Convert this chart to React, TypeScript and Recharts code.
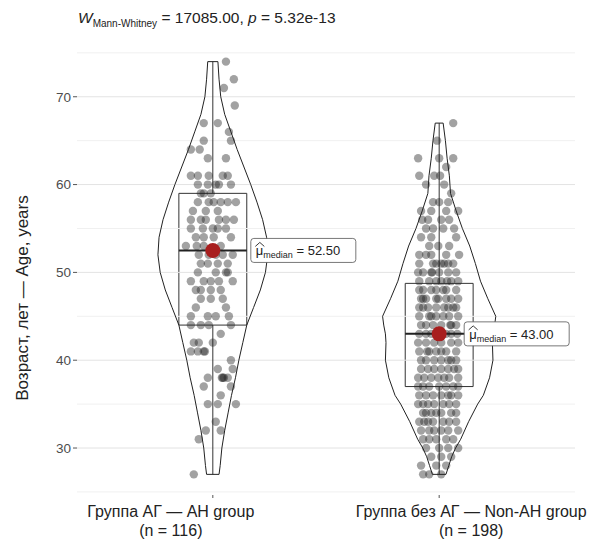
import React from 'react';
import { ComposedChart, Scatter, XAxis, YAxis, ReferenceLine, ReferenceArea } from 'recharts';

// ---------- data ----------
const categories = ['Группа АГ — АН group', 'Группа без АГ — Non-AH group'];
const groupSizes = [116, 198];
const yTicks = [30, 40, 50, 60, 70];
const majorGrid = [30, 40, 50, 60, 70];
const minorGrid = [25, 35, 45, 55, 65, 75];
const medians = [52.5, 43.0];
const q1s = [44, 37];
const q3s = [59, 48.75];
const mins = [27, 27];
const maxs = [74, 67];

// violin outlines: age and relative density (half width)
const violin1Ages = [27, 28, 30, 32, 34, 36, 38, 40, 42, 44, 46, 48, 50, 52, 54, 56, 58, 60, 62, 64, 66, 68, 70, 72, 74];
const violin1Density = [0.11, 0.13, 0.16, 0.21, 0.27, 0.33, 0.4, 0.46, 0.53, 0.6, 0.72, 0.84, 0.93, 0.97, 0.95, 0.88, 0.78, 0.67, 0.55, 0.43, 0.32, 0.21, 0.14, 0.11, 0.09];
const violin2Ages = [27, 28, 29, 30, 31, 33, 35, 36, 38, 40, 42, 43, 44, 45, 47, 49, 51, 53, 55, 57, 59, 61, 63, 65, 67];
const violin2Density = [0.12, 0.17, 0.22, 0.29, 0.38, 0.52, 0.68, 0.78, 0.89, 0.95, 0.94, 0.95, 0.98, 1.0, 0.86, 0.73, 0.64, 0.54, 0.41, 0.3, 0.2, 0.18, 0.14, 0.11, 0.07];

// jittered observations (age, horizontal jitter in category units)
const ages1 = [74, 72, 71, 69, 67, 67, 66, 65, 65, 64, 64, 63, 63, 61, 61, 61, 61, 60, 60, 60, 60, 59, 59, 58, 58, 58, 58, 57, 57, 57, 56, 56, 56, 56, 56, 55, 55, 55, 55, 54, 54, 54, 53, 52, 52, 52, 51, 51, 51, 50, 50, 50, 49, 49, 49, 49, 48, 48, 47, 47, 46, 45, 45, 45, 44, 44, 44, 42, 42, 41, 41, 41, 40, 39, 39, 38, 38, 38, 37, 37, 35, 35, 35, 33, 32, 32, 31, 27, 60, 61, 59, 58, 56, 55, 53, 53, 52, 51, 50, 49, 48, 48, 47, 45, 44, 43, 42, 41, 38, 38, 36, 46, 54, 53, 58, 52];
const jitter1 = [0.058, 0.093, 0.049, 0.097, -0.04, 0.022, 0.071, -0.04, 0.08, -0.097, -0.058, -0.022, 0.058, -0.097, -0.066, -0.018, 0.066, -0.066, -0.022, 0.027, 0.08, -0.053, -0.04, -0.066, -0.018, 0.004, 0.066, -0.088, -0.031, 0.022, -0.097, -0.031, 0.027, 0.058, 0.093, -0.097, -0.044, 0.022, 0.058, -0.075, -0.04, 0.004, -0.04, -0.062, 0.044, 0.088, -0.022, 0.022, 0.066, -0.066, 0.013, 0.066, -0.097, -0.04, 0.027, 0.088, -0.053, -0.009, -0.009, 0.044, 0.058, -0.097, -0.022, 0.013, -0.097, -0.018, 0.08, -0.084, 0, -0.097, -0.066, -0.04, 0.08, 0.022, 0.088, -0.022, 0.044, 0.066, -0.04, 0.08, -0.022, 0.022, 0.102, 0.013, -0.031, 0.035, -0.062, -0.084, 0.013, 0.044, -0.009, 0.035, -0.053, 0, -0.071, 0.035, -0.018, -0.053, 0.058, -0.009, -0.075, 0.035, -0.053, 0.071, -0.053, 0.035, -0.062, -0.035, 0.04, 0.049, 0.035, -0.075, 0.08, -0.119, 0.102, 0.013];

const ages2 = [67, 63, 63, 63, 61, 61, 60, 58, 57, 57, 57, 56, 56, 55, 55, 55, 55, 54, 53, 52, 52, 52, 51, 51, 51, 51, 51, 50, 50, 50, 50, 49, 49, 49, 48, 48, 48, 48, 48, 48, 48, 47, 47, 47, 46, 46, 46, 45, 45, 45, 45, 44, 44, 43, 43, 42, 42, 41, 41, 40, 40, 40, 40, 39, 39, 39, 38, 38, 38, 38, 37, 37, 37, 36, 36, 36, 36, 35, 35, 35, 35, 34, 34, 34, 34, 33, 33, 33, 32, 32, 32, 31, 31, 30, 30, 29, 28, 27,
  52, 52, 50, 50, 49, 49, 49, 47, 47, 47, 46, 46, 46, 46, 45, 45, 44, 44, 44, 44, 43, 43, 43, 43, 42, 42, 42, 42, 41, 41, 41, 41, 40, 40, 40, 39, 39, 39, 39, 38, 38, 38, 37, 37, 37, 37, 36, 36, 36, 35, 35, 35, 34, 34, 34, 33, 33, 33, 33, 32, 32, 32, 31, 31, 31, 30, 30, 29, 29, 28, 28, 27, 27,
  60, 59, 58, 57, 56, 54, 54, 53, 53, 51, 49, 47, 46, 45, 43, 47, 51, 56, 61, 62, 65, 58, 50, 44, 41];
const jitter2 = [0.062, -0.093, 0, 0.062, -0.088, 0.004, 0.022, 0, -0.08, -0.035, 0.084, -0.049, 0.044, -0.058, -0.027, 0.018, 0.066, 0.075, -0.004, -0.088, -0.035, 0.088, -0.088, -0.027, 0.009, 0.04, 0.062, -0.093, 0, 0.04, 0.075, -0.088, 0.009, 0.084, -0.088, -0.035, 0.018, -0.071, -0.013, 0.031, 0.075, -0.071, -0.013, 0.084, -0.049, 0.022, 0.075, -0.088, -0.044, 0.044, 0.084, -0.058, 0.053, -0.058, 0.053, -0.093, 0.053, 0.031, 0.075, -0.08, -0.022, 0.04, 0.075, -0.08, 0.009, 0.066, -0.093, -0.035, 0.044, 0.084, -0.093, 0, 0.062, -0.027, 0.009, 0.053, 0.084, -0.093, -0.049, 0.018, 0.075, -0.071, -0.035, 0.009, 0.053, -0.088, -0.027, 0.018, -0.044, 0.009, 0.084, -0.071, 0.031, 0, 0.084, 0.009, -0.08, -0.071,
  -0.058, 0.031, -0.071, -0.035, 0.053, -0.044, -0.013, -0.058, 0.031, 0.053, -0.088, -0.013, 0.04, -0.071, -0.013, 0.018, -0.08, -0.027, 0.009, 0.075, -0.088, -0.035, 0.031, 0.08, -0.058, -0.022, 0.009, 0.084, -0.088, -0.044, -0.013, 0.009, -0.058, 0.009, 0.053, -0.049, -0.022, 0.04, 0.084, -0.066, -0.004, 0.022, -0.071, -0.044, 0.031, 0.084, -0.088, -0.058, 0.04, -0.071, -0.022, 0.044, -0.058, -0.013, 0.075, -0.066, -0.049, 0.044, 0.075, -0.08, -0.022, 0.04, -0.044, -0.013, 0.062, -0.058, 0.04, -0.035, 0.053, -0.013, 0.031, -0.044, 0.009,
  -0.058, 0.053, -0.027, 0.031, 0.009, -0.08, -0.035, 0.044, -0.044, -0.013, 0.035, -0.08, 0.062, -0.035, 0.009, -0.004, 0.022, -0.075, -0.022, 0.031, -0.009, 0.04, -0.031, 0.049, -0.053];

// ---------- styles ----------
const VIOLIN_HALF_WIDTH = 0.25;
const BOX_HALF_WIDTH = 0.15;
const LABEL_DX = [38, 25];
const XLABEL_SHIFT = [-42, 32];
const FONT = '"Liberation Sans", Arial, sans-serif';

const violinPath = (center: number, ages: number[], dens: number[]) => {
  const right = ages.map((a, i) => ({ x: center + dens[i] * VIOLIN_HALF_WIDTH, y: a }));
  const left = ages.map((a, i) => ({ x: center - dens[i] * VIOLIN_HALF_WIDTH, y: a })).reverse();
  return [...right, ...left, right[0]];
};

const violin1 = violinPath(1, violin1Ages, violin1Density);
const violin2 = violinPath(2, violin2Ages, violin2Density);
const points1 = ages1.map((a, i) => ({ x: 1 + jitter1[i], y: a }));
const points2 = ages2.map((a, i) => ({ x: 2 + jitter2[i], y: a }));
const medianPoints = medians.map((m, i) => ({ x: i + 1, y: m, idx: i }));

const NoShape = () => <g />;

const Dot = (p: any) => <circle cx={p.cx} cy={p.cy} r={4.2} fill="#222" fillOpacity={0.42} />;

const MedianShape = (p: any) => {
  const i = p.payload.idx;
  const lx = p.cx + LABEL_DX[i];
  const ly = p.cy;
  return (
    <g>
      <circle cx={p.cx} cy={p.cy} r={7.5} fill="#a81e1e" />
      <rect x={lx} y={ly - 12} width={105} height={24} rx={3} ry={3} fill="#fff" stroke="#555" strokeWidth={0.8} />
      <path d={`M ${lx + 4.5} ${ly - 4} L ${lx + 9} ${ly - 8} L ${lx + 13.5} ${ly - 4}`} fill="none" stroke="#222" strokeWidth={0.9} />
      <text x={lx + 5} y={ly + 5} fontFamily={FONT} fontSize={13} fill="#222">
        <tspan>μ</tspan>
        <tspan fontSize={9} dy={3}>median</tspan>
        <tspan dy={-3}>{` = ${medians[i].toFixed(2)}`}</tspan>
      </text>
    </g>
  );
};

const XTick = (p: any) => {
  const i = Math.round(p.payload.value) - 1;
  if (i < 0 || i > 1) return <g />;
  const shift = XLABEL_SHIFT[i];
  return (
    <g>
      <text x={p.x + shift} y={p.y + 17} textAnchor="middle" fontFamily={FONT} fontSize={16} fill="#222">
        {categories[i]}
      </text>
      <text x={p.x + shift} y={p.y + 36} textAnchor="middle" fontFamily={FONT} fontSize={16} fill="#222">
        {`(n = ${groupSizes[i]})`}
      </text>
    </g>
  );
};

const YLabel = (p: any) => {
  const vb = p.viewBox || { x: 0, y: 0, width: 0, height: 0 };
  const cx = vb.x + 14;
  const cy = vb.y + vb.height / 2 + 30;
  return (
    <text x={cx} y={cy} transform={`rotate(-90 ${cx} ${cy})`} textAnchor="middle" dominantBaseline="central" fontFamily={FONT} fontSize={17} fill="#222">
      Возраст, лет — Age, years
    </text>
  );
};

export default function App() {
  return (
    <div style={{ position: 'relative', width: 608, height: 546, background: '#fff' }}>
      <div style={{ position: 'absolute', left: 70, top: 1, fontFamily: FONT, fontSize: 15.5, color: '#222', whiteSpace: 'nowrap' }}>
        <i>W</i>
        <sub style={{ fontSize: 10 }}>Mann-Whitney</sub>
        {' = 17085.00, '}
        <i>p</i>
        {' = 5.32e-13'}
      </div>
      <ComposedChart width={608} height={546} margin={{ top: 33, right: 41, bottom: 9, left: 0 }}>
        <XAxis
          dataKey="x"
          type="number"
          domain={[0.4, 2.6]}
          ticks={[1, 2]}
          allowDataOverflow
          axisLine={false}
          tickSize={3}
          tickLine={{ stroke: '#555' }}
          height={50}
          tick={<XTick />}
        />
        <YAxis
          dataKey="y"
          type="number"
          domain={[24.65, 76.35]}
          ticks={yTicks}
          allowDataOverflow
          axisLine={false}
          width={69}
          tickSize={4}
          tickMargin={2}
          tickLine={{ stroke: '#555' }}
          tick={{ fill: '#4d4d4d', fontSize: 13.5, fontFamily: FONT }}
          label={<YLabel />}
        />
        {minorGrid.map((v) => (
          <ReferenceLine key={'mi' + v} y={v} stroke="#f0f0f0" strokeWidth={1} />
        ))}
        {majorGrid.map((v) => (
          <ReferenceLine key={'ma' + v} y={v} stroke="#e3e3e3" strokeWidth={1} />
        ))}
        <Scatter data={violin1} line={{ stroke: '#222', strokeWidth: 1 }} shape={<NoShape />} isAnimationActive={false} />
        <Scatter data={violin2} line={{ stroke: '#222', strokeWidth: 1 }} shape={<NoShape />} isAnimationActive={false} />
        {[0, 1].map((i) => (
          <ReferenceArea key={'box' + i} x1={i + 1 - BOX_HALF_WIDTH} x2={i + 1 + BOX_HALF_WIDTH} y1={q1s[i]} y2={q3s[i]} fill="none" fillOpacity={0} stroke="#333" strokeWidth={1} />
        ))}
        {[0, 1].map((i) => (
          <ReferenceLine key={'wu' + i} segment={[{ x: i + 1, y: q3s[i] }, { x: i + 1, y: maxs[i] }]} stroke="#333" strokeWidth={1} />
        ))}
        {[0, 1].map((i) => (
          <ReferenceLine key={'wl' + i} segment={[{ x: i + 1, y: mins[i] }, { x: i + 1, y: q1s[i] }]} stroke="#333" strokeWidth={1} />
        ))}
        {[0, 1].map((i) => (
          <ReferenceLine key={'md' + i} segment={[{ x: i + 1 - BOX_HALF_WIDTH, y: medians[i] }, { x: i + 1 + BOX_HALF_WIDTH, y: medians[i] }]} stroke="#222" strokeWidth={2} />
        ))}
        <Scatter data={points1} shape={<Dot />} isAnimationActive={false} />
        <Scatter data={points2} shape={<Dot />} isAnimationActive={false} />
        <Scatter data={medianPoints} shape={<MedianShape />} isAnimationActive={false} />
      </ComposedChart>
    </div>
  );
}
